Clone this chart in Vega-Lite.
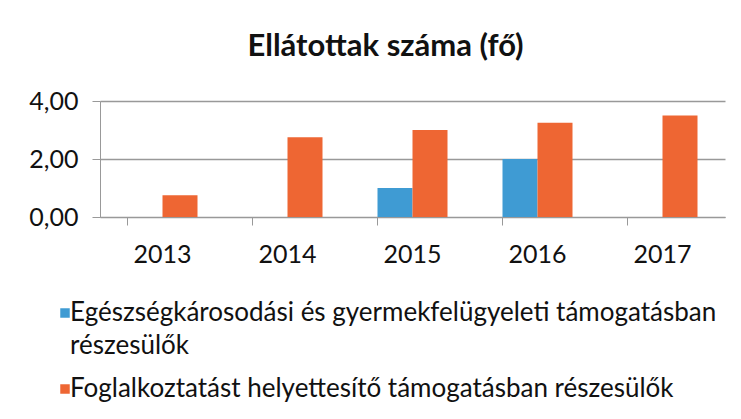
{
  "$schema": "https://vega.github.io/schema/vega-lite/v6.json",
  "width": 625,
  "height": 116,
  "autosize": {"type": "none"},
  "padding": {"left": 100, "top": 101, "right": 16, "bottom": 202},
  "background": "white",
  "title": {
    "text": "Ellátottak száma (fő)",
    "font": "Lato",
    "fontSize": 31,
    "fontWeight": "bold",
    "color": "#111111",
    "anchor": "middle",
    "dx": -27,
    "offset": 26
  },
  "data": {
    "values": [
      {"year": "2013", "series": "Egészségkárosodási és gyermekfelügyeleti támogatásban részesülők", "value": 0},
      {"year": "2013", "series": "Foglalkoztatást helyettesítő támogatásban részesülők", "value": 0.75},
      {"year": "2014", "series": "Egészségkárosodási és gyermekfelügyeleti támogatásban részesülők", "value": 0},
      {"year": "2014", "series": "Foglalkoztatást helyettesítő támogatásban részesülők", "value": 2.75},
      {"year": "2015", "series": "Egészségkárosodási és gyermekfelügyeleti támogatásban részesülők", "value": 1},
      {"year": "2015", "series": "Foglalkoztatást helyettesítő támogatásban részesülők", "value": 3},
      {"year": "2016", "series": "Egészségkárosodási és gyermekfelügyeleti támogatásban részesülők", "value": 2},
      {"year": "2016", "series": "Foglalkoztatást helyettesítő támogatásban részesülők", "value": 3.25},
      {"year": "2017", "series": "Egészségkárosodási és gyermekfelügyeleti támogatásban részesülők", "value": 0},
      {"year": "2017", "series": "Foglalkoztatást helyettesítő támogatásban részesülők", "value": 3.5}
    ]
  },
  "mark": {"type": "bar"},
  "encoding": {
    "x": {
      "field": "year",
      "type": "nominal",
      "scale": {"paddingInner": 0.44, "paddingOuter": 0.22},
      "axis": {
        "title": null,
        "labelAngle": 0,
        "labelFont": "Lato",
        "labelFontSize": 25,
        "labelColor": "#111111",
        "domainColor": "#999999",
        "tickColor": "#999999",
        "tickSize": 8,
        "labelPadding": 17,
        "bandPosition": 0,
        "grid": false
      }
    },
    "xOffset": {"field": "series", "type": "nominal"},
    "y": {
      "field": "value",
      "type": "quantitative",
      "scale": {"domain": [0, 4]},
      "axis": {
        "title": null,
        "values": [0, 2, 4],
        "labelExpr": "replace(format(datum.value, '.2f'), '.', ',')",
        "labelFont": "Lato",
        "labelFontSize": 25,
        "labelColor": "#111111",
        "labelPadding": 14,
        "tickSize": 8,
        "tickColor": "#999999",
        "domainColor": "#999999",
        "gridColor": "#999999",
        "gridWidth": 1.5
      }
    },
    "color": {
      "field": "series",
      "type": "nominal",
      "scale": {
        "domain": ["Egészségkárosodási és gyermekfelügyeleti támogatásban részesülők", "Foglalkoztatást helyettesítő támogatásban részesülők"],
        "range": ["#3f9bd3", "#ee6633"]
      },
      "legend": {
        "title": null,
        "orient": "none",
        "legendX": -48,
        "legendY": 199,
        "direction": "vertical",
        "symbolType": "square",
        "symbolSize": 90,
        "symbolStrokeWidth": 0,
        "labelFont": "Lato",
        "labelFontSize": 26,
        "labelColor": "#111111",
        "labelLimit": 720,
        "labelOffset": -8,
        "rowPadding": 17,
        "labelBaseline": "line-top",
        "labelExpr": "datum.label == 'Egészségkárosodási és gyermekfelügyeleti támogatásban részesülők' ? ['Egészségkárosodási és gyermekfelügyeleti támogatásban', 'részesülők'] : datum.label",
        "encode": {
          "labels": {"update": {"dy": {"value": -16}}}
        }
      }
    }
  },
  "config": {
    "view": {"stroke": null},
    "style": {"guide-label": {"lineHeight": 33}}
  }
}
